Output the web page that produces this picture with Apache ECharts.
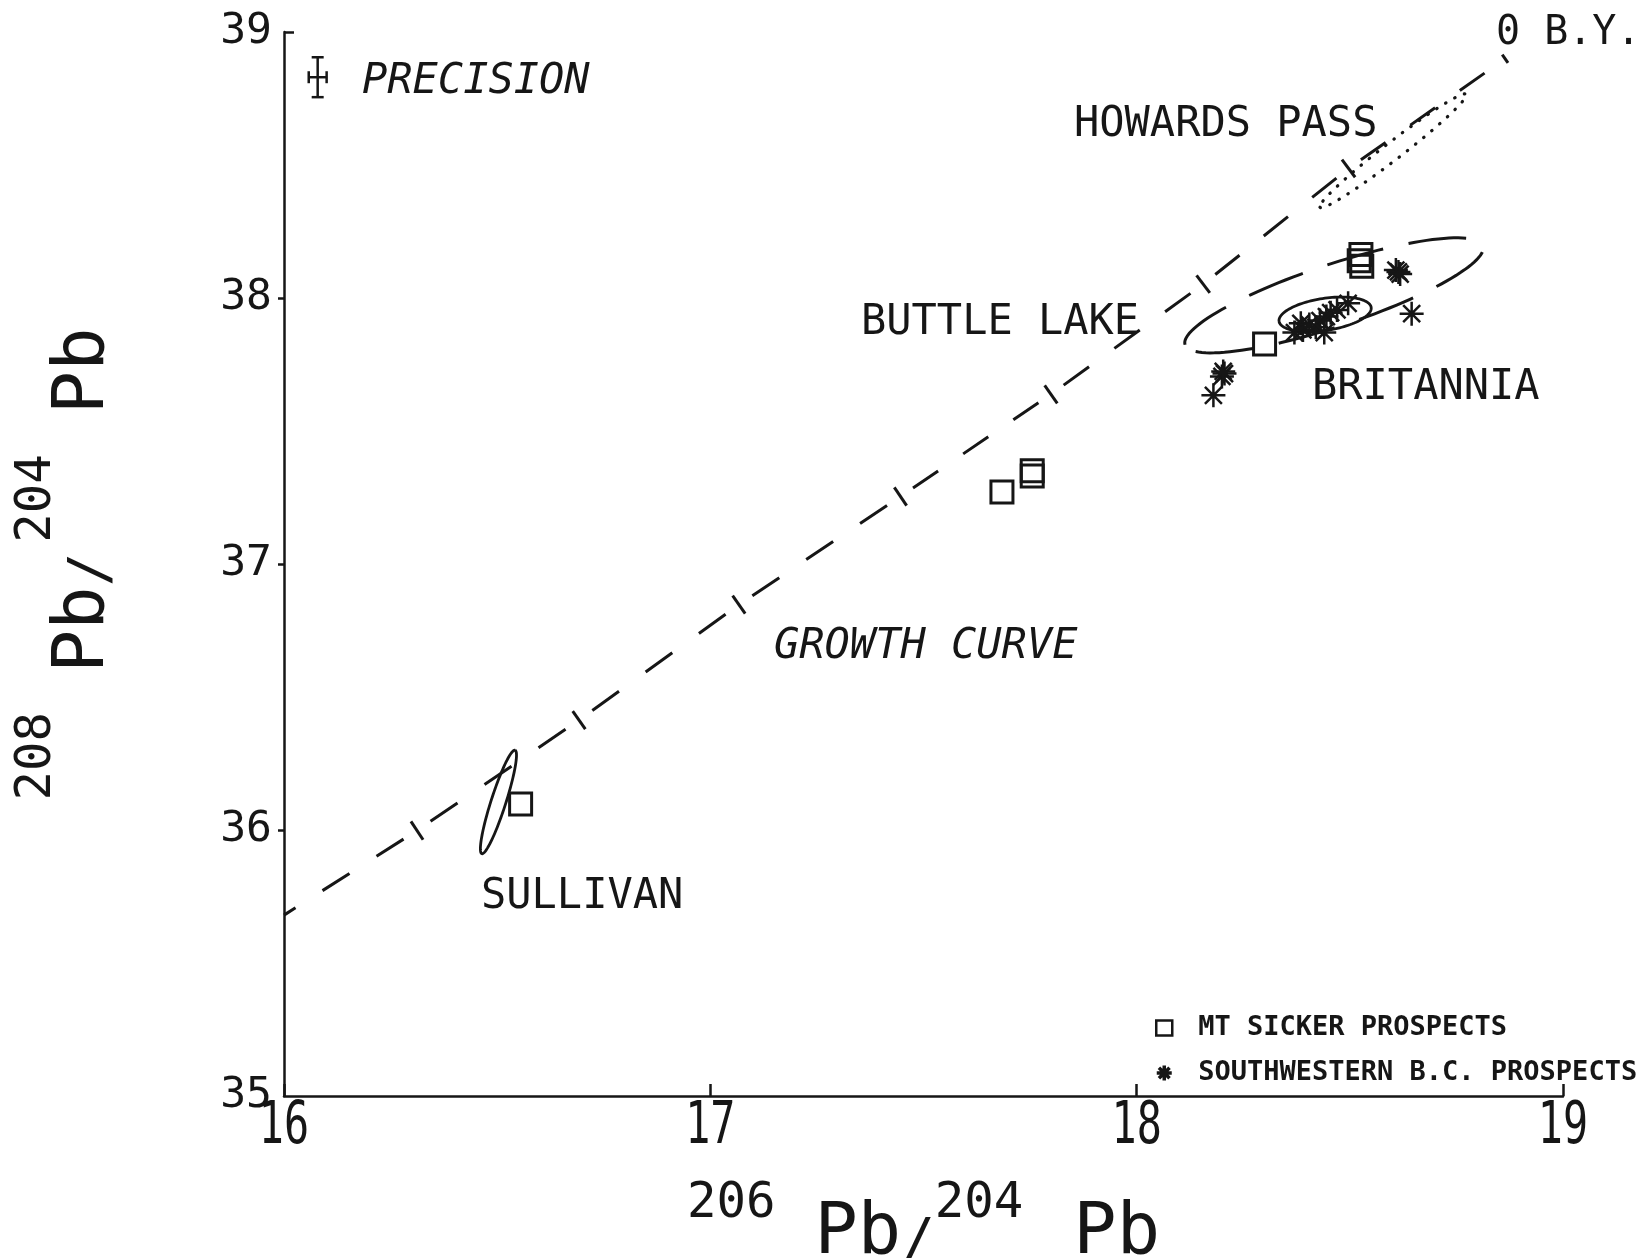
<!DOCTYPE html>
<html>
<head>
<meta charset="utf-8">
<script src="https://cdn.jsdelivr.net/npm/echarts@6/dist/echarts.min.js"></script>
<style>
  html, body { margin: 0; padding: 0; background: #ffffff; }
  #chart { width: 1648px; height: 1258px; }
</style>
</head>
<body>
<div id="chart"></div>
<script>
// Lead isotope plot: 208Pb/204Pb against 206Pb/204Pb with the growth curve

const xTicks = [16, 17, 18, 19];
const yTicks = [35, 36, 37, 38, 39];

// Growth curve vertices: starts at the axis, then one vertex per time mark, ends at 0 B.Y.
const growthCurve = [
  [16.000, 35.680], [16.312, 35.998], [16.692, 36.413], [17.067, 36.847],
  [17.446, 37.254], [17.799, 37.638], [18.156, 38.052], [18.497, 38.487],
  [18.845, 38.878]
];

// Mt Sicker prospects (open squares)
const mtSicker = [
  [17.684, 37.271], [17.755, 37.351], [17.755, 37.331],
  [18.300, 37.827],
  [18.526, 38.164], [18.522, 38.140], [18.528, 38.119]
];

// Sullivan deposit (open square inside its ellipse)
const sullivanPoint = [[16.555, 36.098]];

// Southwestern B.C. prospects (asterisks)
const swBC = [
  [18.180, 37.634],
  [18.200, 37.705], [18.206, 37.716], [18.203, 37.724],
  [18.370, 37.870], [18.385, 37.905], [18.390, 37.880], [18.405, 37.900],
  [18.420, 37.890], [18.430, 37.915], [18.445, 37.930], [18.440, 37.870],
  [18.455, 37.945], [18.470, 37.955], [18.496, 37.980],
  [18.608, 38.105], [18.614, 38.098], [18.618, 38.090],
  [18.645, 37.941]
];

// Field outlines: both ends of the long axis, then both ends of the short axis
const sullivanField  = [16.542, 36.300, 16.464, 35.911, 16.519, 36.097, 16.486, 36.114];
const britanniaCore  = [18.334, 37.912, 18.550, 37.965, 18.436, 37.998, 18.448, 37.879];
const britanniaField = [18.1135, 37.824, 18.8126, 38.196, 18.440, 38.121, 18.486, 37.900];
const howardsPass    = [18.430, 38.341, 18.773, 38.766, 18.614, 38.528, 18.589, 38.580];

// Analytical precision (centre, half-widths in x and y)
const precisionPoint = [16.079, 38.830];
const precisionError = [0.021, 0.075];

const INK = '#161616';
const MONO = '"DejaVu Sans Mono", "Liberation Mono", monospace';

const asteriskPath = 'path://M0,-1L0,1M-1,0L1,0M-0.7071,-0.7071L0.7071,0.7071M-0.7071,0.7071L0.7071,-0.7071';

const curveSegments = growthCurve.slice(0, -1).map((p, i) =>
  [p[0], p[1], growthCurve[i + 1][0], growthCurve[i + 1][1], i]);
const curveMarks = growthCurve.slice(1).map((p, k) => {
  const i = k + 1;
  const prev = growthCurve[i - 1];
  const next = growthCurve[Math.min(i + 1, growthCurve.length - 1)];
  return [p[0], p[1], prev[0], prev[1], next[0], next[1], i === growthCurve.length - 1 ? 1 : 0];
});

function renderSegment(params, api) {
  const p0 = api.coord([api.value(0), api.value(1)]);
  const p1 = api.coord([api.value(2), api.value(3)]);
  const first = api.value(4) === 0;
  // dashes are laid out from a time mark so that every mark sits in a gap
  const a = first ? p1 : p0;
  const b = first ? p0 : p1;
  const len = Math.hypot(b[0] - a[0], b[1] - a[1]);
  const d = first ? 32 : len / 6;
  const g = d;
  return {
    type: 'line',
    shape: { x1: a[0], y1: a[1], x2: b[0], y2: b[1] },
    style: { stroke: INK, lineWidth: 3, lineDash: [d, g], lineDashOffset: d + g / 2, fill: null }
  };
}

function renderMark(params, api) {
  const c = api.coord([api.value(0), api.value(1)]);
  const pr = api.coord([api.value(2), api.value(3)]);
  const nx = api.coord([api.value(4), api.value(5)]);
  const end = api.value(6) === 1;
  const to = end ? c : nx;
  let dx = to[0] - pr[0], dy = to[1] - pr[1];
  const l = Math.hypot(dx, dy);
  dx /= l; dy /= l;
  const half = end ? 5 : 11;
  const ox = end ? dx * 10 : 0, oy = end ? dy * 10 : 0;
  return {
    type: 'line',
    shape: { x1: c[0] + ox - dy * half, y1: c[1] + oy + dx * half, x2: c[0] + ox + dy * half, y2: c[1] + oy - dx * half },
    style: { stroke: INK, lineWidth: 3 }
  };
}

function ellipseRenderer(dash, width, cap) {
  return function (params, api) {
    const A = api.coord([api.value(0), api.value(1)]);
    const B = api.coord([api.value(2), api.value(3)]);
    const C = api.coord([api.value(4), api.value(5)]);
    const D = api.coord([api.value(6), api.value(7)]);
    const cx = (A[0] + B[0]) / 2, cy = (A[1] + B[1]) / 2;
    const ux = (B[0] - A[0]) / 2, uy = (B[1] - A[1]) / 2;
    const vx = (D[0] - C[0]) / 2, vy = (D[1] - C[1]) / 2;
    const pts = [];
    for (let k = 0; k <= 120; k++) {
      const t = Math.PI + (k / 120) * Math.PI * 2;
      pts.push([cx + Math.cos(t) * ux + Math.sin(t) * vx, cy + Math.cos(t) * uy + Math.sin(t) * vy]);
    }
    return {
      type: 'polyline',
      shape: { points: pts },
      style: { stroke: INK, lineWidth: width, lineDash: dash, fill: null, lineCap: cap || 'butt' }
    };
  };
}

function renderPrecision(params, api) {
  const x = api.value(0), y = api.value(1), ex = api.value(2), ey = api.value(3);
  const top = api.coord([x, y + ey]), bot = api.coord([x, y - ey]);
  const lft = api.coord([x - ex, y]), rgt = api.coord([x + ex, y]);
  const cap = 6, st = { stroke: INK, lineWidth: 2.5 };
  return {
    type: 'group',
    children: [
      { type: 'line', shape: { x1: top[0], y1: top[1], x2: bot[0], y2: bot[1] }, style: st },
      { type: 'line', shape: { x1: top[0] - cap, y1: top[1], x2: top[0] + cap, y2: top[1] }, style: st },
      { type: 'line', shape: { x1: bot[0] - cap, y1: bot[1], x2: bot[0] + cap, y2: bot[1] }, style: st },
      { type: 'line', shape: { x1: lft[0], y1: lft[1], x2: rgt[0], y2: rgt[1] }, style: st },
      { type: 'line', shape: { x1: lft[0], y1: lft[1] - cap, x2: lft[0], y2: lft[1] + cap }, style: st },
      { type: 'line', shape: { x1: rgt[0], y1: rgt[1] - cap, x2: rgt[0], y2: rgt[1] + cap }, style: st }
    ]
  };
}

// x tick labels in a tall, narrow plotter-like face
function renderXLabel(params, api) {
  const p = api.coord([api.value(0), api.value(1)]);
  return {
    type: 'text', x: p[0], y: p[1] + 3, scaleX: 0.72,
    style: { text: String(api.value(0)), fontFamily: MONO, fontSize: 58, fill: INK, align: 'center', verticalAlign: 'top' }
  };
}

const ellipseEncode = { x: [0, 2, 4, 6], y: [1, 3, 5, 7] };

function annotation(text, left, top, size, italic) {
  return {
    type: 'text', left: left, top: top, silent: true,
    style: {
      text: text, fill: INK, fontFamily: MONO, fontSize: size,
      fontStyle: italic ? 'italic' : 'normal'
    }
  };
}

function titleRich(bigLine, slashGap, secondGap) {
  return {
    s:  { fontFamily: MONO, fontSize: 49, color: INK, verticalAlign: 'top', lineHeight: 49 },
    p:  { fontFamily: MONO, fontSize: 72, color: INK, verticalAlign: 'bottom', lineHeight: bigLine, padding: [0, 0, 0, 39] },
    q:  { fontFamily: MONO, fontSize: 72, color: INK, verticalAlign: 'bottom', lineHeight: bigLine, padding: [0, 0, 0, secondGap] },
    sl: { fontFamily: MONO, fontSize: 56, color: INK, verticalAlign: 'bottom', lineHeight: bigLine, padding: [0, slashGap, 0, 0] }
  };
}

const chart = echarts.init(document.getElementById('chart'), null, { renderer: 'canvas' });

chart.setOption({
  animation: false,
  backgroundColor: '#ffffff',
  grid: { left: 284, right: 85, top: 32, bottom: 162, containLabel: false, outerBoundsMode: 'none' },
  xAxis: {
    type: 'value', min: xTicks[0], max: xTicks[xTicks.length - 1], interval: 1,
    axisLine: { show: true, onZero: false, lineStyle: { color: INK, width: 2.5 } },
    axisTick: { show: true, inside: true, length: 12, lineStyle: { color: INK, width: 2.5 } },
    splitLine: { show: false },
    axisLabel: { show: false },
    name: '{s|206}{p|Pb}{sl|/}{s|204}{q|Pb}',
    nameLocation: 'middle', nameGap: 84,
    nameTextStyle: { rich: titleRich(90, 0, 50) }
  },
  yAxis: [{
    type: 'value', min: yTicks[0], max: yTicks[yTicks.length - 1], interval: 1,
    axisLine: { show: true, onZero: false, lineStyle: { color: INK, width: 2.5 } },
    axisTick: { show: true, inside: false, length: 6, customValues: yTicks.slice(1, -1), lineStyle: { color: INK, width: 2.5 } },
    splitLine: { show: false },
    axisLabel: { color: INK, fontFamily: MONO, fontSize: 43, margin: 12, padding: [6, 0, 0, 0] },
    name: '{s|208}{p|Pb}{sl|/}{s|204}{q|Pb}',
    nameLocation: 'middle', nameGap: 164,
    nameTextStyle: { rich: titleRich(107, 10, 40) }
  }, {
    type: 'value', min: yTicks[0], max: yTicks[yTicks.length - 1], interval: 1, position: 'left',
    axisLine: { show: false },
    axisTick: { show: true, inside: true, length: 10, customValues: [yTicks[yTicks.length - 1]], lineStyle: { color: INK, width: 2.5 } },
    axisLabel: { show: false },
    splitLine: { show: false }
  }],
  legend: {
    orient: 'vertical', left: 1150, top: 1008, itemWidth: 16, itemHeight: 15, itemGap: 15,
    selectedMode: false,
    textStyle: { color: INK, fontFamily: MONO, fontSize: 27, fontWeight: 'bold', lineHeight: 30, padding: [0, 0, 0, 21] },
    data: [
      { name: 'MT SICKER PROSPECTS', icon: 'rect', itemStyle: { color: 'rgba(0,0,0,0)', borderColor: INK, borderWidth: 2.5 } },
      { name: 'SOUTHWESTERN B.C. PROSPECTS', icon: asteriskPath, itemStyle: { color: INK, borderColor: INK, borderWidth: 3.5 } }
    ]
  },
  graphic: [
    annotation('PRECISION', 362, 61, 42, true),
    annotation('HOWARDS PASS', 1074, 104, 42, false),
    annotation('0 B.Y.', 1496, 14, 40, false),
    annotation('BUTTLE LAKE', 861, 302, 42, false),
    annotation('BRITANNIA', 1312, 367, 42, false),
    annotation('GROWTH CURVE', 774, 626, 42, true),
    annotation('SULLIVAN', 481, 876, 42, false)
  ],
  series: [
    {
      name: 'x labels', type: 'custom', silent: true, clip: false,
      data: xTicks.map(v => [v, yTicks[0]]), encode: { x: [0], y: [1] }, renderItem: renderXLabel
    },
    {
      name: 'growth curve', type: 'custom', silent: true, clip: false,
      data: curveSegments, encode: { x: [0, 2], y: [1, 3] }, renderItem: renderSegment
    },
    {
      name: 'time marks', type: 'custom', silent: true, clip: false,
      data: curveMarks, encode: { x: [0], y: [1] }, renderItem: renderMark
    },
    {
      name: 'fields', type: 'custom', silent: true, clip: false,
      data: [sullivanField, britanniaCore], encode: ellipseEncode, renderItem: ellipseRenderer(null, 2.8)
    },
    {
      name: 'britannia field', type: 'custom', silent: true, clip: false,
      data: [britanniaField], encode: ellipseEncode, renderItem: ellipseRenderer([58, 26], 3)
    },
    {
      name: 'howards pass', type: 'custom', silent: true, clip: false,
      data: [howardsPass], encode: ellipseEncode, renderItem: ellipseRenderer([0.5, 10], 3.2, 'round')
    },
    {
      name: 'precision', type: 'custom', silent: true, clip: false,
      data: [[precisionPoint[0], precisionPoint[1], precisionError[0], precisionError[1]]],
      encode: { x: [0], y: [1] }, renderItem: renderPrecision
    },
    {
      name: 'MT SICKER PROSPECTS', type: 'scatter', silent: true, data: mtSicker,
      symbol: 'rect', symbolSize: 22,
      itemStyle: { color: 'rgba(0,0,0,0)', borderColor: INK, borderWidth: 3, opacity: 1 }
    },
    {
      name: 'Sullivan', type: 'scatter', silent: true, data: sullivanPoint,
      symbol: 'rect', symbolSize: 22,
      itemStyle: { color: 'rgba(0,0,0,0)', borderColor: INK, borderWidth: 3, opacity: 1 }
    },
    {
      name: 'SOUTHWESTERN B.C. PROSPECTS', type: 'scatter', silent: true, data: swBC,
      symbol: asteriskPath, symbolSize: 24,
      itemStyle: { color: INK, borderColor: INK, borderWidth: 2.5, opacity: 1 }
    }
  ]
});
</script>
</body>
</html>
